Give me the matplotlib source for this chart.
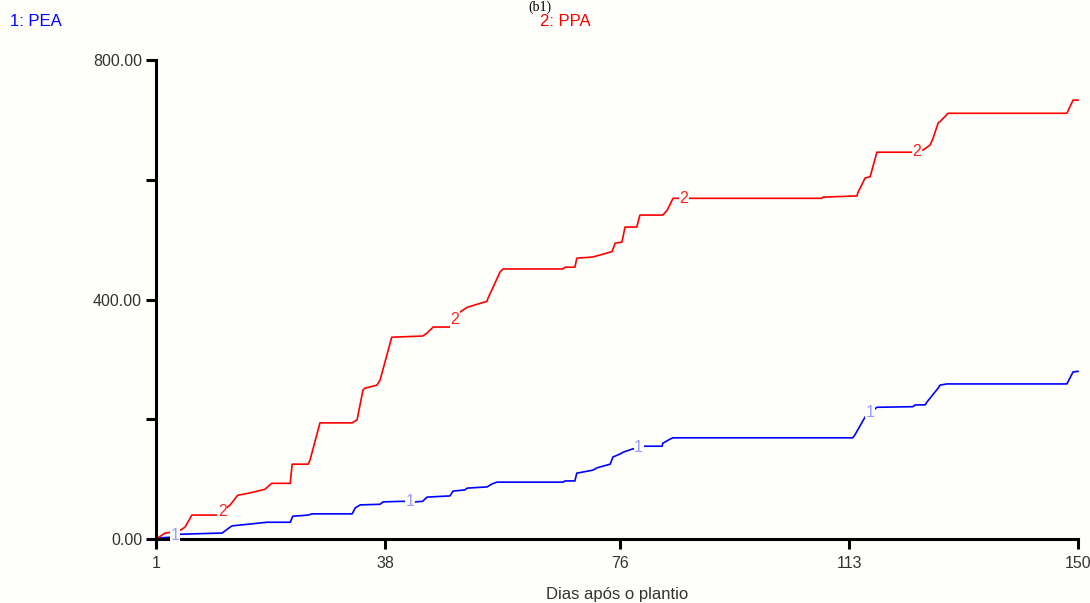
import numpy as np
import matplotlib
matplotlib.use("Agg")
from matplotlib import pyplot as plt

plt.rcParams['font.family'] = ['Liberation Sans', 'DejaVu Sans']

# PEA (serie 1)
pea_dias = [1, 1.7, 3.3, 5, 11.7, 13, 13.3, 16.2, 18.9, 22.7, 23.1, 25.6, 26.2, 32.7, 33.2, 34,
            37.2, 37.7, 40.9, 42.85, 44.1, 44.8, 48.5, 49, 50.9, 51.3, 54.5, 55.3, 56.1, 66.8,
            67.1, 68.7, 69, 71.6, 72.3, 74.4, 74.85, 76, 76.5, 77.9, 79.7, 82.8, 82.9, 84.1,
            84.55, 113.6, 113.95, 115.6, 117.5, 123.3, 123.7, 125.3, 125.6, 127.4, 127.7,
            128.8, 148.2, 149.2, 150]
pea_vals = [0, 2, 3, 8, 10, 20, 22, 25, 28, 28, 38, 40, 42, 42, 52, 57,
            58, 62, 63, 62, 63, 70, 72, 80, 82, 85, 87, 92, 95, 95,
            97, 97, 110, 115, 119, 125, 137, 142, 145, 150, 155, 155, 160, 167,
            169, 169, 174, 204, 220, 221, 224, 224, 229, 252, 257,
            259, 259, 279, 280]

# PPA (serie 2)
ppa_dias = [1, 2.5, 4, 5, 5.7, 6.8, 11, 13, 14.2, 16.2, 18.6, 19.7, 22.7, 23, 25.6, 25.9, 27.5,
            32.7, 33.5, 34.45, 34.8, 36.7, 37.2, 39.1, 44.1, 44.8, 45.8, 48.5, 50.1, 51.3,
            54.5, 54.65, 56.6, 57.1, 66.8, 67.1, 68.7, 69, 71.6, 72.3, 74.7, 75.2, 76.3,
            76.8, 78.7, 79.2, 82.9, 83.6, 84.55, 108.6, 108.8, 114.3, 114.4, 115.6, 116.4,
            116.7, 117.5, 123.3, 125, 126.1, 126.6, 127.4, 127.7, 129, 148.2, 149.2, 150]
ppa_vals = [0, 10, 12, 15, 20, 40, 40, 57, 73, 77, 83, 93, 93, 125, 125, 132, 194,
            194, 199, 249, 252, 257, 265, 337, 339, 344, 354, 354, 379, 387,
            397, 402, 446, 451, 451, 454, 454, 469, 471, 473, 480, 494, 496,
            521, 521, 541, 541, 549, 569, 569, 571, 573, 578, 603, 605,
            616, 646, 646, 650, 658, 670, 695, 697, 711, 711, 733, 733]

x_ticks = [1, 38, 76, 113, 150]
y_ticks = [0, 200, 400, 600, 800]
y_labels = ['0.00', '', '400.00', '', '800.00']

# posicoes dos numeros sobre as curvas
pea_marcas = [4.1, 42, 79, 116.4]
ppa_marcas = [11.7, 49.3, 86.3, 124]

fundo = '#fefefb'
fig = plt.figure(figsize=(10.9, 6.03), dpi=100, facecolor=fundo)
ax = fig.add_axes([0.1431, 0.1061, 0.8459, 0.7944], facecolor=fundo)

ax.plot(pea_dias, pea_vals, color='#0000ff', lw=1.2, clip_on=False)
ax.plot(ppa_dias, ppa_vals, color='#ff0000', lw=1.2, clip_on=False)

for d in pea_marcas:
    ax.text(d, np.interp(d, pea_dias, pea_vals), '1', color='#9a9aff', fontsize=11.5,
            ha='center', va='center',
            bbox=dict(facecolor=fundo, edgecolor='none', pad=0.5))
for d in ppa_marcas:
    ax.text(d, np.interp(d, ppa_dias, ppa_vals), '2', color='#ff2020', fontsize=11.5,
            ha='center', va='center',
            bbox=dict(facecolor=fundo, edgecolor='none', pad=0.5))

ax.set_xlim(1, 150)
ax.set_ylim(0, 800)
for s in ['top', 'right']:
    ax.spines[s].set_visible(False)
for s in ['left', 'bottom']:
    ax.spines[s].set_linewidth(2.2)
ax.set_xticks(x_ticks)
ax.set_yticks(y_ticks)
ax.set_yticklabels(y_labels)
ax.tick_params(axis='both', width=2.2, length=7, labelsize=11.5, colors='black',
               labelcolor='#333333', pad=3)
ax.tick_params(axis='x', pad=5)

ax.set_xlabel('Dias após o plantio', fontsize=12, color='#333333', labelpad=12)

fig.text(10 / 1090, 1 - 22 / 603, '1: PEA', color='#0000ff', fontsize=12, va='center')
fig.text(540 / 1090, 1 - 22 / 603, '2: PPA', color='#ff0000', fontsize=12, va='center')
fig.text(540 / 1090, 0.999, '(b1)', family='Liberation Serif', fontsize=10, ha='center',
         va='top')

fig.savefig('out.png', dpi=100, facecolor=fundo)
